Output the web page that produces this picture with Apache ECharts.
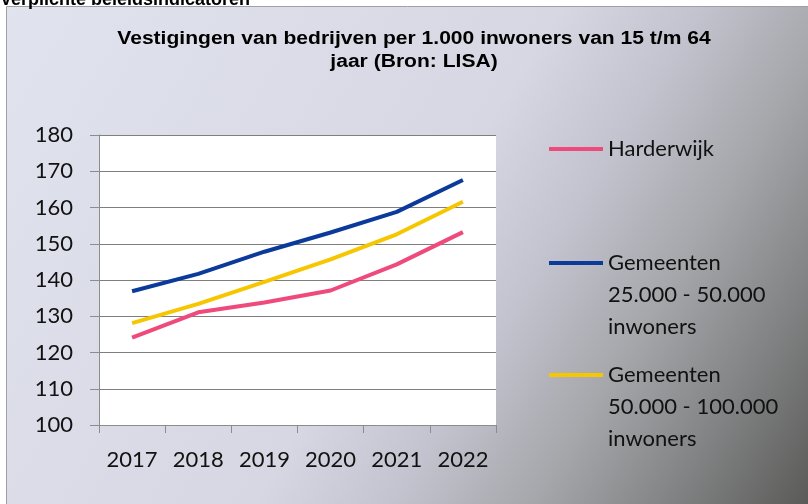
<!DOCTYPE html>
<html>
<head>
<meta charset="utf-8">
<script src="https://cdn.jsdelivr.net/npm/echarts@6/dist/echarts.min.js"></script>
<style>
  html, body { margin: 0; padding: 0; background: #fff; }
  #chart { width: 808px; height: 504px; }
</style>
</head>
<body>
<div id="chart"></div>
<script>
const years = ['2017', '2018', '2019', '2020', '2021', '2022'];
const harderwijk = [124.1, 131.1, 133.8, 137.1, 144.3, 153.2];
const gem25 = [136.9, 141.7, 147.8, 153.1, 158.8, 167.6];
const gem50 = [128.1, 133.4, 139.5, 145.7, 152.6, 161.6];

const names = [
  'Harderwijk',
  'Gemeenten\n25.000 - 50.000\ninwoners',
  'Gemeenten\n50.000 - 100.000\ninwoners'
];
const colors = ['#ee4a7c', '#0b3a9b', '#f6c700'];

const chart = echarts.init(document.getElementById('chart'));

const legendText = { fontFamily: 'Lato', fontSize: 22, color: '#111', lineHeight: 32 };
// line sits on the first text line of a 3-line label (icon box 96 high)
const tallIcon = 'path://M0,0h0.01v0.01h-0.01z M0,14h54v4h-54z M0,96h0.01v0.01h-0.01z';

const options = {
  animation: false,
  graphic: [
    {
      type: 'rect',
      z: -10,
      shape: { x: 6.5, y: 6.5, width: 802, height: 498 },
      style: {
        stroke: '#a0a0a0',
        lineWidth: 1,
        fill: new echarts.graphic.LinearGradient(0, 0, 1, 1, [
          { offset: 0, color: '#e1e3ef' },
          { offset: 0.5, color: '#d6d7e3' },
          { offset: 0.625, color: '#c2c3ce' },
          { offset: 0.75, color: '#a6a7ab' },
          { offset: 0.875, color: '#818283' },
          { offset: 1, color: '#5a5a58' }
        ])
      }
    },
    {
      type: 'text',
      left: 0,
      top: -9,
      style: {
        text: 'Verplichte beleidsindicatoren',
        font: 'bold 18px "Liberation Sans"',
        fill: '#000'
      }
    },
    {
      type: 'text',
      x: 414,
      y: 28,
      scaleX: 1.17,
      style: {
        text: 'Vestigingen van bedrijven per 1.000 inwoners van 15 t/m 64\njaar (Bron: LISA)',
        font: 'bold 18px "Liberation Sans"',
        lineHeight: 23,
        align: 'center',
        verticalAlign: 'top',
        fill: '#000'
      }
    }
  ],
  grid: {
    left: 99,
    right: 312,
    top: 135,
    bottom: 79,
    show: true,
    backgroundColor: '#fff',
    borderWidth: 0
  },
  legend: [
    {
      data: [names[0]],
      left: 549, top: 133, padding: 0,
      icon: 'rect', itemWidth: 54, itemHeight: 4,
      selectedMode: false,
      textStyle: legendText
    },
    {
      data: [names[1]],
      left: 549, top: 247, padding: 0,
      icon: tallIcon, itemWidth: 54, itemHeight: 96,
      selectedMode: false,
      textStyle: legendText
    },
    {
      data: [names[2]],
      left: 549, top: 359, padding: 0,
      icon: tallIcon, itemWidth: 54, itemHeight: 96,
      selectedMode: false,
      textStyle: legendText
    }
  ],
  xAxis: {
    type: 'category',
    data: years,
    boundaryGap: true,
    axisLine: { lineStyle: { color: '#8c8c8c', width: 1 } },
    axisTick: { show: true, interval: 0, length: 8, lineStyle: { color: '#8c8c8c' } },
    axisLabel: { interval: 0, margin: 24, fontFamily: 'Lato', fontSize: 22, color: '#111' },
    splitLine: { show: false }
  },
  yAxis: {
    type: 'value',
    min: 100,
    max: 180,
    interval: 10,
    axisLine: { show: true, lineStyle: { color: '#8c8c8c', width: 1 } },
    axisTick: { show: true, length: 9, lineStyle: { color: '#8c8c8c' } },
    axisLabel: { margin: 26, fontFamily: 'Lato', fontSize: 22, color: '#111' },
    splitLine: { lineStyle: { color: '#7f7f7f', width: 1 } }
  },
  series: [
    {
      name: names[0],
      type: 'line',
      data: harderwijk,
      symbol: 'none',
      lineStyle: { width: 4, color: colors[0] },
      itemStyle: { color: colors[0] }
    },
    {
      name: names[1],
      type: 'line',
      data: gem25,
      symbol: 'none',
      lineStyle: { width: 4, color: colors[1] },
      itemStyle: { color: colors[1] }
    },
    {
      name: names[2],
      type: 'line',
      data: gem50,
      symbol: 'none',
      lineStyle: { width: 4, color: colors[2] },
      itemStyle: { color: colors[2] }
    }
  ]
};

chart.setOption(options);
</script>
</body>
</html>
